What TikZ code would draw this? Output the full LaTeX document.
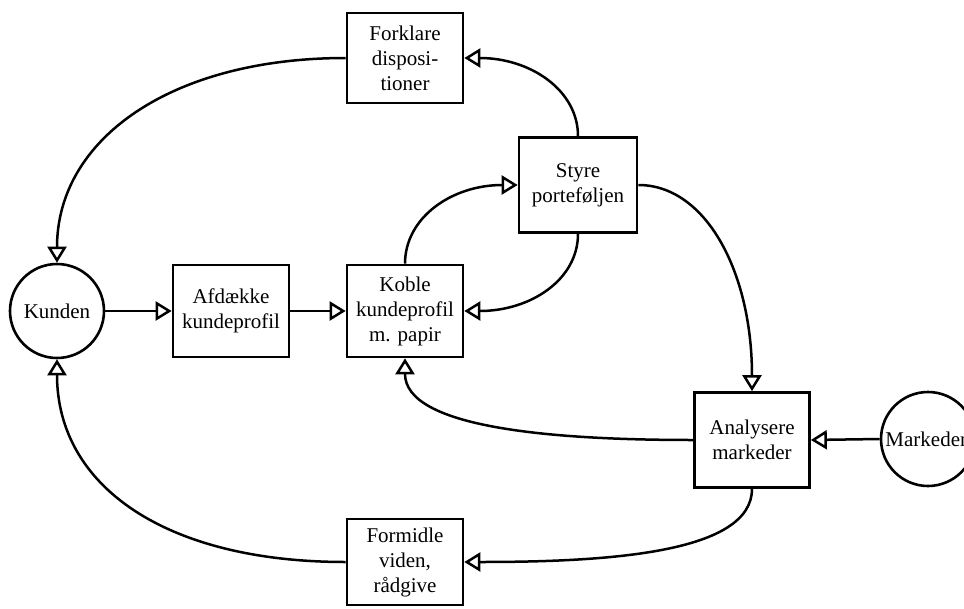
\documentclass[tikz,border=0pt]{standalone}
\usepackage{fontspec}
\setmainfont{Liberation Serif}
\usetikzlibrary{arrows.meta}
\begin{document}
\begin{tikzpicture}[x=1pt,y=1pt,
  txt/.style={font=\fontsize{21}{25}\selectfont},
  box/.style={txt, draw, line width=2.7pt, minimum width=116pt, minimum height=92pt,
    align=center, inner sep=2pt},
  actor/.style={txt, draw, circle, line width=2.6pt, minimum size=94pt, inner sep=0pt},
  flow/.style={line width=2.5pt, -{Triangle[open, length=16pt, width=19pt]}}]
\useasboundingbox (0,0) rectangle (964,-608);

% actors
\node[actor] (kunden) at (57,-311) {Kunden};
\node[actor] (marked) at (928,-439) {Markeden};

% activities
\node[box] (afdaekke) at (231,-311) {Afdække\\kundeprofil};
\node[box] (koble) at (405,-311) {Koble\\kundeprofil\\m. papir};
\node[box, minimum width=118pt, minimum height=95pt] (styre) at (578,-185) {Styre\\porteføljen};
\node[box, minimum height=90pt] (forklare) at (405,-58) {Forklare\\disposi-\\tioner};
\node[box, minimum height=86pt] (formidle) at (405,-562) {Formidle\\viden,\\rådgive};
\node[box, minimum width=115pt, minimum height=95pt] (analyse) at (752,-440) {Analysere\\markeder};

% flows
\draw[flow] (kunden) -- (afdaekke);
\draw[flow] (afdaekke) -- (koble);
\draw[flow] (koble.north) .. controls +(0,46) and +(-66,0) .. (styre.west);
\draw[flow] (styre.south) .. controls +(0,-46) and +(66,0) .. (koble.east);
\draw[flow] (styre.north) .. controls +(0,46) and +(66,0) .. (forklare.east);
\draw[flow] (forklare.west) .. controls +(-174,0) and +(0,124) .. (kunden.north);
\draw[flow] (styre.east) .. controls +(67,0) and +(0,120) .. (analyse.north);
\draw[flow] (marked.west) -- (analyse.east);
\draw[flow] (analyse.west) .. controls +(-144,0) and +(0,-69) .. (koble.south);
\draw[flow] (analyse.south) .. controls +(0,-64) and +(145,0) .. (formidle.east);
\draw[flow] (formidle.west) .. controls +(-180,0) and +(0,-127) .. (kunden.south);
\end{tikzpicture}
\end{document}
